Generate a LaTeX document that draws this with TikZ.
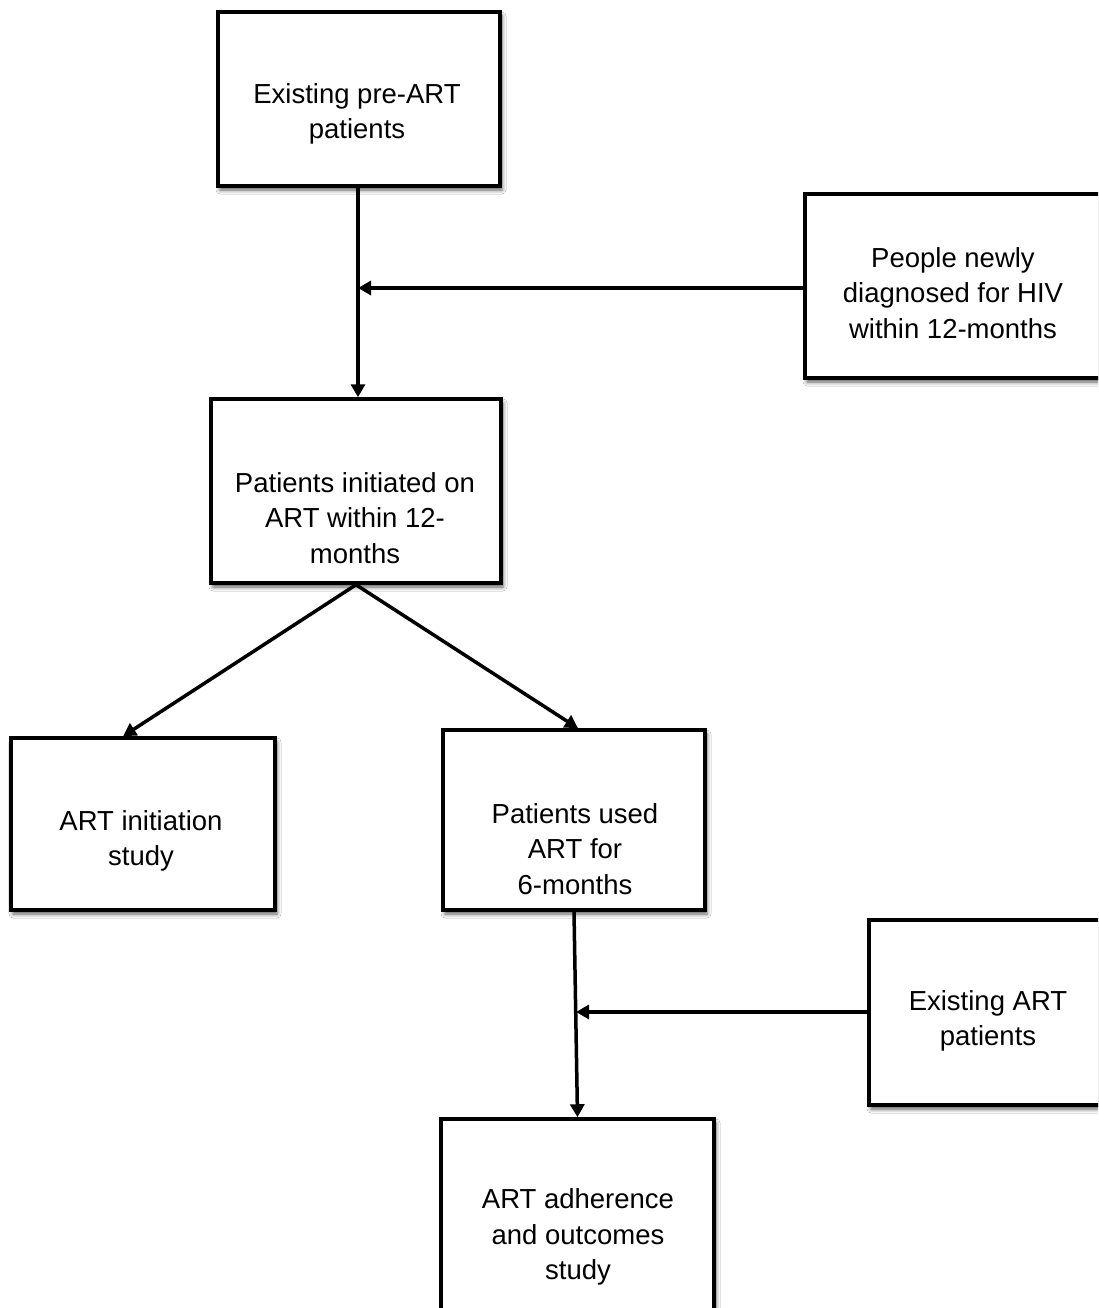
\documentclass[tikz,border=0pt]{standalone}
\usepackage{fontspec}
\setmainfont{Liberation Sans}
\usetikzlibrary{arrows.meta,shadows.blur}
\begin{document}
\begin{tikzpicture}[x=1pt,y=-1pt,
  box/.style={draw=black, line width=3.5pt, fill=white, rectangle, inner sep=0pt,
    blur shadow={shadow xshift=2pt, shadow yshift=-4pt, shadow blur radius=4pt, shadow opacity=65}},
  txt/.style={align=center, inner sep=0pt, font=\fontsize{27.5}{35.5}\selectfont},
  arr/.style={line width=3.5pt, -{Triangle[length=13pt,width=14pt]}}]
\clip (0,0) rectangle (1098,1308);
\fill[white] (0,0) rectangle (1098,1308);
% boxes
\node[box, minimum width=282pt, minimum height=174pt] (b1) at (359,99) {};
\node[box, minimum width=305pt, minimum height=184pt] (b2) at (957.5,286) {};
\node[box, minimum width=290pt, minimum height=184pt] (b3) at (356,491) {};
\node[box, minimum width=264pt, minimum height=172pt] (b4) at (143,824) {};
\node[box, minimum width=262pt, minimum height=180pt] (b5) at (574,820) {};
\node[box, minimum width=241pt, minimum height=185pt] (b6) at (989.5,1012.5) {};
\node[box, minimum width=273pt, minimum height=220pt] (b7) at (577.5,1229) {};
% texts
\node[txt] (t1) at (357,114) {Existing pre-ART\\patients};
\node[txt] (t2) at (953,293) {People newly\\diagnosed for HIV\\within 12-months};
\node[txt] (t3) at (355,518) {Patients initiated on\\ART within 12-\\months};
\node[txt] (t4) at (141,841) {ART initiation\\study};
\node[txt] (t5) at (575,849) {Patients used\\ART for\\6-months};
\node[txt] (t6) at (988,1021) {Existing ART\\patients};
\node[txt] (t7) at (578,1237) {ART adherence\\and outcomes\\study};
% connectors
\coordinate (j1) at (358,288);
\coordinate (j2) at (576,1012);
\draw[arr] ([xshift=-1pt]b1.south) -- ([xshift=2pt]b3.north);
\draw[arr] (b2.west |- j1) -- (j1);
\draw[arr] (b3.south) -- ([xshift=-20pt]b4.north);
\draw[arr] (b3.south) -- ([xshift=4pt]b5.north);
\draw[arr] (b5.south) -- (b7.north);
\draw[arr] (b6.west |- j2) -- (j2);
\end{tikzpicture}
\end{document}
